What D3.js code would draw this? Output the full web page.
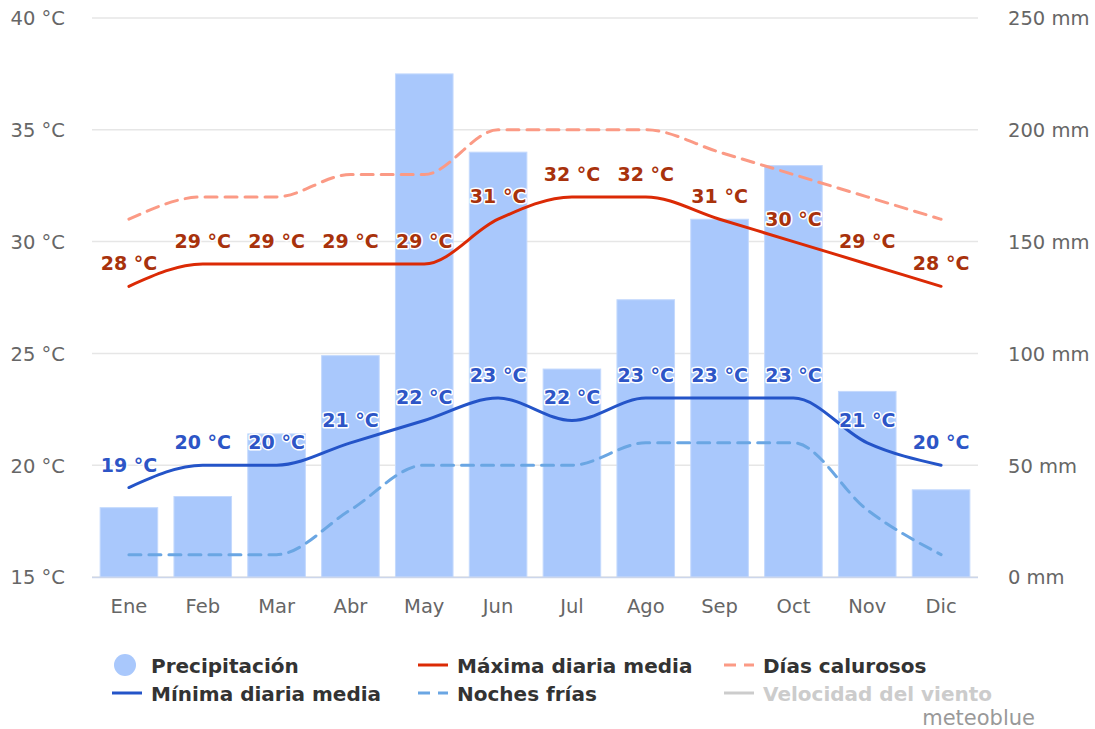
<!DOCTYPE html>
<html>
<head>
<meta charset="utf-8">
<script src="https://cdn.jsdelivr.net/npm/d3@7"></script>
<style>
  body { margin: 0; background: #fff; }
  svg text { font-family: "DejaVu Sans", "Verdana", sans-serif !important; }
</style>
</head>
<body>
<svg id="chart"></svg>
<script>
const months = ['Ene', 'Feb', 'Mar', 'Abr', 'May', 'Jun', 'Jul', 'Ago', 'Sep', 'Oct', 'Nov', 'Dic'];
const precipitation = [31, 36, 64, 99, 225, 190, 93, 124, 160, 184, 83, 39];
const maxTemp = [28, 29, 29, 29, 29, 31, 32, 32, 31, 30, 29, 28];
const minTemp = [19, 20, 20, 21, 22, 23, 22, 23, 23, 23, 21, 20];
const hotDays = [31, 32, 32, 33, 33, 35, 35, 35, 34, 33, 32, 31];
const coldNights = [16, 16, 16, 18, 20, 20, 20, 21, 21, 21, 18, 16];
const tempTicks = [15, 20, 25, 30, 35, 40];
const precipTicks = [0, 50, 100, 150, 200, 250];

const width = 1095;
const height = 729;
const plot = { left: 92, right: 978, top: 18, bottom: 577 };

const svg = d3.select('#chart').attr('width', width).attr('height', height);

const x = d3.scaleBand().domain(months).range([plot.left, plot.right]).paddingInner(0.22).paddingOuter(0.11);
const yTemp = d3.scaleLinear().domain([15, 40]).range([plot.bottom, plot.top]);
const yPrecip = d3.scaleLinear().domain([0, 250]).range([plot.bottom, plot.top]);
const cx = m => x(m) + x.bandwidth() / 2;

// gridlines
svg.append('g')
  .selectAll('line')
  .data(tempTicks)
  .join('line')
  .attr('x1', plot.left)
  .attr('x2', plot.right)
  .attr('y1', d => yTemp(d))
  .attr('y2', d => yTemp(d))
  .attr('stroke', '#e6e6e6')
  .attr('stroke-width', 1.5);

// axes
const leftAxis = svg.append('g')
  .attr('transform', `translate(${plot.left - 27}, 0)`)
  .call(d3.axisLeft(yTemp).tickValues(tempTicks).tickSize(0).tickFormat(d => `${d} °C`));
const rightAxis = svg.append('g')
  .attr('transform', `translate(${plot.right + 30}, 0)`)
  .call(d3.axisRight(yPrecip).tickValues(precipTicks).tickSize(0).tickFormat(d => `${d} mm`));
const bottomAxis = svg.append('g')
  .attr('transform', `translate(0, ${plot.bottom + 29})`)
  .call(d3.axisBottom(x).tickSize(0));
[leftAxis, rightAxis, bottomAxis].forEach(a => {
  a.attr('font-family', null).attr('font-size', null);
  a.select('.domain').remove();
  a.selectAll('text').attr('fill', '#666').style('font-size', '19.5px').attr('dy', '0.35em');
});
rightAxis.selectAll('text').attr('x', 0);
leftAxis.selectAll('text').attr('x', 0);
bottomAxis.selectAll('text').attr('y', 0);

// precipitation bars
svg.append('g')
  .selectAll('rect')
  .data(precipitation)
  .join('rect')
  .attr('x', (d, i) => x(months[i]))
  .attr('width', x.bandwidth())
  .attr('y', d => yPrecip(d))
  .attr('height', d => plot.bottom - yPrecip(d))
  .attr('fill', '#a9c8fc')
  .attr('stroke', '#c4d9fd')
  .attr('stroke-width', 1);

// bottom axis line
svg.append('line')
  .attr('x1', plot.left).attr('x2', plot.right)
  .attr('y1', plot.bottom + 0.5).attr('y2', plot.bottom + 0.5)
  .attr('stroke', '#ccd6eb').attr('stroke-width', 1.5);

const line = d3.line()
  .x((d, i) => cx(months[i]))
  .y(d => yTemp(d))
  .curve(d3.curveMonotoneX);

const series = [
  { values: coldNights, color: '#6aa6e3', dash: '12,8' },
  { values: hotDays, color: '#fb9a85', dash: '12,8' },
  { values: minTemp, color: '#2454c8', dash: null },
  { values: maxTemp, color: '#db2a05', dash: null },
];
series.forEach(s => {
  svg.append('path')
    .datum(s.values)
    .attr('d', line)
    .attr('fill', 'none')
    .attr('stroke', s.color)
    .attr('stroke-width', 3)
    .attr('stroke-linecap', 'round')
    .attr('stroke-dasharray', s.dash);
});

// data labels
const labelSets = [
  { values: maxTemp, color: '#a8320c' },
  { values: minTemp, color: '#2d55c6' },
];
labelSets.forEach(s => {
  svg.append('g')
    .selectAll('text')
    .data(s.values)
    .join('text')
    .attr('x', (d, i) => cx(months[i]))
    .attr('y', d => yTemp(d) - 16)
    .attr('text-anchor', 'middle')
    .style('font-size', '19px')
    .style('font-weight', 'bold')
    .attr('fill', s.color)
    .attr('stroke', '#fff')
    .attr('stroke-width', 3)
    .attr('stroke-linejoin', 'round')
    .attr('paint-order', 'stroke')
    .text(d => `${d} °C`);
});

// legend
const legendItems = [
  { label: 'Precipitación', x: 116, y: 666, type: 'circle', color: '#a9c8fc' },
  { label: 'Máxima diaria media', x: 418, y: 666, type: 'line', color: '#db2a05' },
  { label: 'Días calurosos', x: 724, y: 666, type: 'dash', color: '#fb9a85' },
  { label: 'Mínima diaria media', x: 112, y: 694, type: 'line', color: '#2454c8' },
  { label: 'Noches frías', x: 418, y: 694, type: 'dash', color: '#6aa6e3' },
  { label: 'Velocidad del viento', x: 724, y: 694, type: 'line', color: '#cccccc', text: '#cccccc' },
];
const legend = svg.append('g');
legendItems.forEach(item => {
  const g = legend.append('g');
  if (item.type === 'circle') {
    g.append('circle').attr('cx', item.x + 9).attr('cy', item.y - 1).attr('r', 11).attr('fill', item.color);
  } else {
    g.append('line')
      .attr('x1', item.x).attr('x2', item.x + 30)
      .attr('y1', item.y - 1).attr('y2', item.y - 1)
      .attr('stroke', item.color).attr('stroke-width', 3)
      .attr('stroke-dasharray', item.type === 'dash' ? '12,8' : null);
  }
  g.append('text')
    .attr('x', item.type === 'circle' ? item.x + 35 : item.x + 39)
    .attr('y', item.y)
    .attr('dy', '0.35em')
    .style('font-size', '20px')
    .style('font-weight', 'bold')
    .attr('fill', item.text || '#333')
    .text(item.label);
});

svg.append('text')
  .attr('x', 1035)
  .attr('y', 718)
  .attr('dy', '0.35em')
  .attr('text-anchor', 'end')
  .style('font-size', '21px')
  .attr('fill', '#999')
  .text('meteoblue');
</script>
</body>
</html>
